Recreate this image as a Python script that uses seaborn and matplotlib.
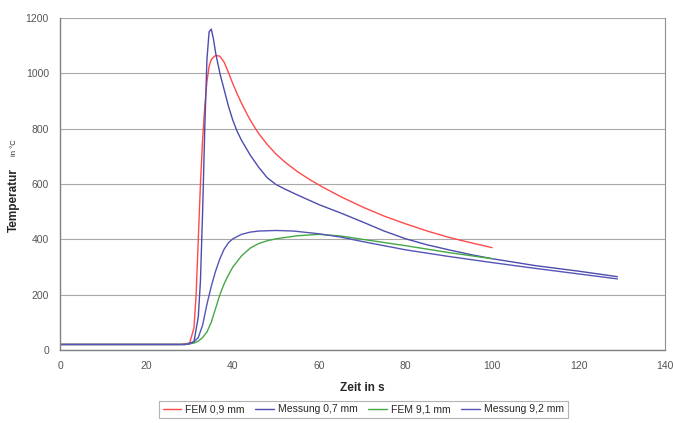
import numpy as np
import pandas as pd
import matplotlib
matplotlib.use("Agg")
import matplotlib.pyplot as plt
import seaborn as sns

t_fem_09 = [0, 28, 30, 31, 31.5, 32, 32.5, 33, 33.5, 34, 34.5, 35, 36, 37, 38, 39, 40,
            41, 42, 43, 44, 45, 46, 48, 50, 52, 55, 58, 61, 65, 70, 75, 80, 85, 90, 95, 100]
T_fem_09 = [20, 20, 25, 80, 200, 400, 600, 760, 880, 970, 1025, 1050, 1065, 1062, 1040,
            1002, 962, 926, 892, 861, 832, 806, 782, 742, 708, 680, 644, 614, 587, 554,
            517, 484, 456, 430, 407, 388, 370]

t_mess_07 = [0, 29, 31, 32, 32.5, 33, 33.5, 34, 34.5, 35, 35.5, 36, 37, 38, 39, 40, 41,
             42, 44, 46, 48, 50, 52, 55, 60, 65, 70, 75, 80, 85, 90, 95, 100, 110, 120, 129]
T_mess_07 = [20, 20, 30, 120, 250, 500, 800, 1050, 1150, 1160, 1125, 1075, 1000, 940,
             880, 830, 790, 758, 705, 660, 622, 598, 582, 560, 525, 495, 463, 430, 402,
             380, 362, 345, 330, 305, 285, 265]

t_fem_91 = [0, 29, 31, 32, 33, 34, 35, 36, 37, 38, 39, 40, 42, 44, 46, 48, 50, 55, 60,
            65, 70, 80, 90, 100]
T_fem_91 = [20, 20, 25, 32, 45, 65, 100, 150, 200, 240, 272, 300, 340, 368, 385, 395,
            402, 413, 418, 412, 400, 377, 352, 330]

t_mess_92 = [0, 29, 30, 31, 32, 33, 34, 35, 36, 37, 38, 39, 40, 42, 44, 46, 50, 54, 60,
             65, 70, 80, 90, 100, 110, 120, 129]
T_mess_92 = [20, 20, 22, 30, 45, 90, 165, 230, 285, 330, 365, 388, 402, 418, 426, 430,
             432, 430, 420, 408, 392, 362, 338, 316, 295, 275, 257]

labels = ["FEM 0,9 mm", "Messung 0,7 mm", "FEM 9,1 mm", "Messung 9,2 mm"]
colors = ["#ff4a4a", "#4c4cae", "#45a845", "#5555b8"]

series = [(t_fem_09, T_fem_09), (t_mess_07, T_mess_07),
          (t_fem_91, T_fem_91), (t_mess_92, T_mess_92)]

sns.set_style("white")
plt.rcParams['font.family'] = ['Liberation Sans', 'DejaVu Sans']

fig = plt.figure(figsize=(6.73, 4.23), dpi=100)
ax = fig.add_axes([0.0892, 0.1726, 0.8988, 0.7848])

for (t, T), lab, col in zip(series, labels, colors):
    df = pd.DataFrame({"t": t, "T": T})
    sns.lineplot(data=df, x="t", y="T", ax=ax, color=col, lw=1.0,
                 label=lab, estimator=None, sort=False)

ax.set_xlim(0, 140)
ax.set_ylim(0, 1200)
ax.set_xticks(np.arange(0, 141, 20))
ax.set_yticks(np.arange(0, 1201, 200))
ax.yaxis.grid(True, color="#a8a8a8", lw=0.8)
ax.set_axisbelow(True)
for s in ["left", "bottom"]:
    ax.spines[s].set_color("#808080")
    ax.spines[s].set_linewidth(1.0)
ax.spines["right"].set_color("#909090")
ax.spines["top"].set_visible(False)
ax.tick_params(axis="both", labelsize=7.5, colors="#666666", length=3,
               width=0.8, direction="out", pad=5)
for lbl in ax.get_xticklabels() + ax.get_yticklabels():
    lbl.set_color("#555555")

ax.set_xlabel("Zeit in s", fontsize=8.5, fontweight="bold", labelpad=8)
ax.set_ylabel("")
fig.text(0.021, 0.527, "Temperatur", rotation=90, fontsize=8.5, fontweight="bold",
         ha="center", va="center")
fig.text(0.022, 0.65, "in °C", rotation=90, fontsize=5.5, ha="center", va="center")

leg = ax.legend(loc="lower center", bbox_to_anchor=(0.54, 0.0),
                bbox_transform=fig.transFigure, ncol=4, fontsize=7.5,
                frameon=True, fancybox=False, edgecolor="#a0a0a0",
                handlelength=1.8, handletextpad=0.4, columnspacing=1.0,
                borderpad=0.35)
leg.get_frame().set_linewidth(0.8)

fig.savefig("out.png", dpi=100)
